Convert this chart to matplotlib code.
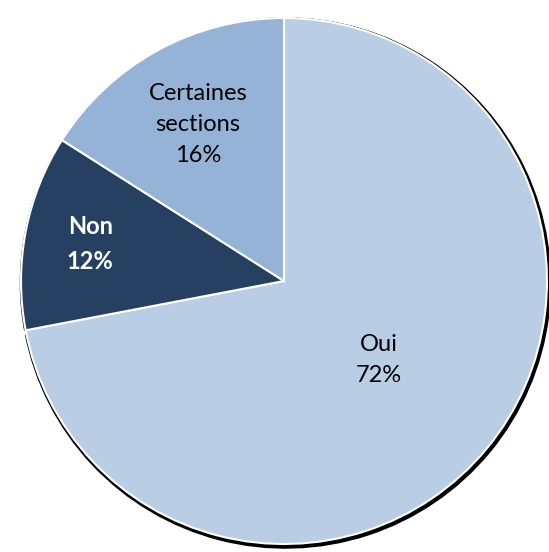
import matplotlib
matplotlib.use("Agg")
import matplotlib.pyplot as plt
import numpy as np

labels = ["Oui", "Non", "Certaines\nsections"]
values = [72, 12, 16]
colors = ["#B9CDE5", "#254061", "#95B3D7"]
text_colors = ["#000000", "#FFFFFF", "#000000"]
text_weights = ["normal", "bold", "normal"]
label_dist = [0.47, 0.75, 0.68]

W, H = 549, 552
fig = plt.figure(figsize=(W / 100, H / 100), dpi=100)
ax = fig.add_axes([0, 0, 1, 1])

cx, cy, r = 284, H - 281, 263

# dark drop shadow behind each slice
ax.pie(values, colors=["black"] * 3, startangle=90, counterclock=False,
       center=(cx + 1.5, cy - 2), radius=r + 4.5,
       wedgeprops=dict(edgecolor="white", linewidth=2.5), frame=True)

wedges, _ = ax.pie(values, colors=colors, startangle=90, counterclock=False,
                   center=(cx, cy), radius=r,
                   wedgeprops=dict(edgecolor="white", linewidth=1.5), frame=True)
ax.set_xlim(0, W)
ax.set_ylim(0, H)
ax.axis("off")

for w, lab, v, tc, fw, d in zip(wedges, labels, values, text_colors, text_weights, label_dist):
    ang = np.deg2rad((w.theta1 + w.theta2) / 2)
    x = cx + d * r * np.cos(ang)
    y = cy + d * r * np.sin(ang)
    ax.text(x, y, f"{lab}\n{v}%", ha="center", va="center", color=tc,
            fontsize=17, fontweight=fw, family="Lato", linespacing=1.6)

fig.savefig("out.png", dpi=100)
